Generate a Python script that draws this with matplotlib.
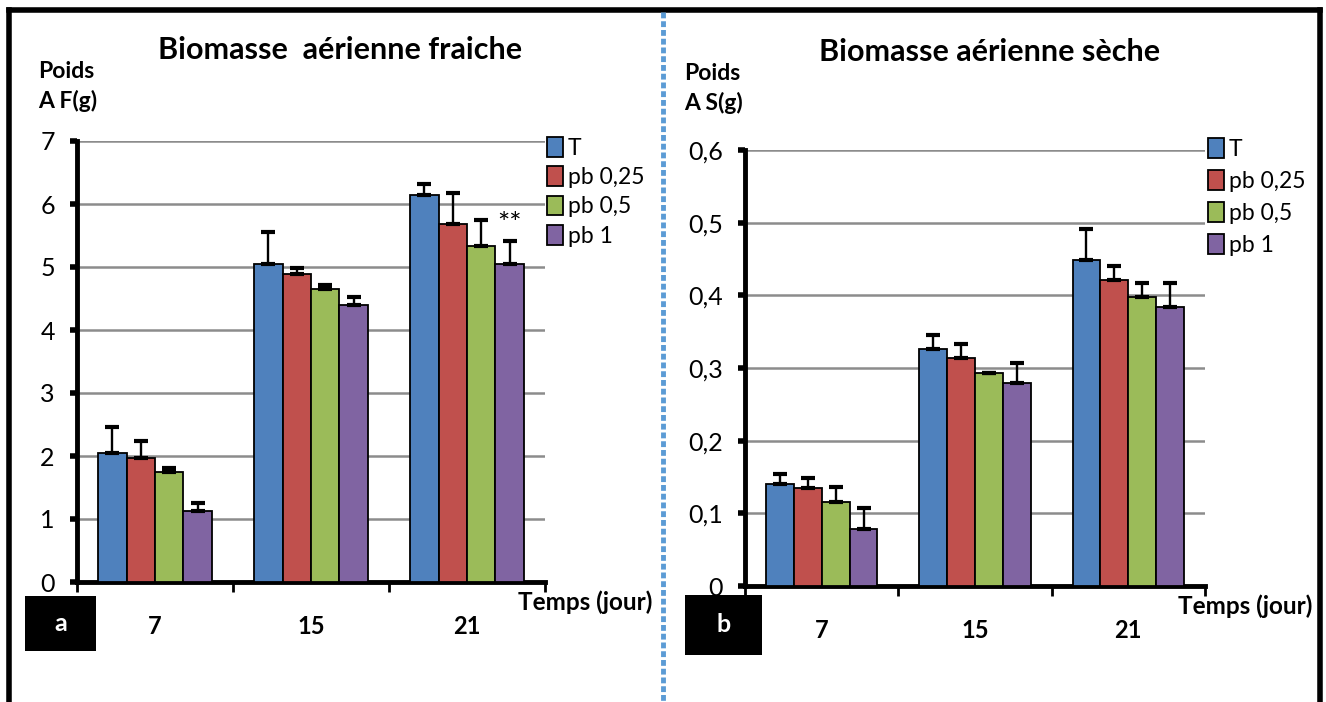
import matplotlib
matplotlib.use("Agg")
import matplotlib.pyplot as plt
from matplotlib.lines import Line2D
from matplotlib.patches import Rectangle, Patch
import numpy as np

plt.rcParams['font.family'] = ['Lato', 'DejaVu Sans']

days = ['7', '15', '21']
series = ['T', 'pb 0,25', 'pb 0,5', 'pb 1']
colors = ['#4F81BD', '#C0504D', '#9BBB59', '#8064A2']

# biomasse aerienne fraiche (g): mean and upper error
fresh_T = [2.05, 5.05, 6.14]
fresh_pb025 = [1.97, 4.89, 5.69]
fresh_pb05 = [1.74, 4.65, 5.33]
fresh_pb1 = [1.12, 4.39, 5.05]
fresh_err_T = [0.41, 0.50, 0.17]
fresh_err_pb025 = [0.27, 0.10, 0.48]
fresh_err_pb05 = [0.07, 0.07, 0.41]
fresh_err_pb1 = [0.14, 0.14, 0.37]

# biomasse aerienne seche (g)
dry_T = [0.140, 0.326, 0.449]
dry_pb025 = [0.135, 0.314, 0.421]
dry_pb05 = [0.115, 0.293, 0.398]
dry_pb1 = [0.078, 0.280, 0.384]
dry_err_T = [0.014, 0.020, 0.042]
dry_err_pb025 = [0.014, 0.019, 0.020]
dry_err_pb05 = [0.021, 0.000, 0.019]
dry_err_pb1 = [0.029, 0.027, 0.033]

W, H = 1326, 702
fig = plt.figure(figsize=(W / 100, H / 100), dpi=100)


def px_axes(x0, x1, ytop, ybot):
    return fig.add_axes([x0 / W, 1 - ybot / H, (x1 - x0) / W, (ybot - ytop) / H])


def draw_panel(ax, means, errs, ymax, yticks, yticklabels):
    n = len(means)
    bw = 0.182
    x = np.arange(len(days)) + 0.5
    for i in range(n):
        pos = x + (i - (n - 1) / 2) * bw
        ax.bar(pos, means[i], bw, color=colors[i], edgecolor='black',
               linewidth=1.3, zorder=3, label=series[i])
        ax.errorbar(pos, means[i], yerr=[np.zeros(len(days)), errs[i]],
                    fmt='none', ecolor='black', elinewidth=1.7, capsize=5,
                    capthick=3, zorder=4)
    ax.set_xlim(0, len(days))
    ax.set_ylim(0, ymax)
    ax.set_yticks(yticks)
    ax.set_yticklabels(yticklabels, fontsize=18)
    ax.yaxis.grid(True, color='#8c8c8c', linewidth=1.8, zorder=0)
    ax.set_axisbelow(True)
    for s in ['top', 'right']:
        ax.spines[s].set_visible(False)
    ax.spines['left'].set_linewidth(3.5)
    ax.spines['bottom'].set_linewidth(3.5)
    ax.set_xticks(np.arange(len(days) + 1))
    ax.set_xticklabels([])
    ax.tick_params(axis='x', which='major', length=7, width=2, direction='out')
    ax.set_xticks(x, minor=True)
    ax.set_xticklabels(days, minor=True, fontsize=17, fontweight='bold')
    ax.tick_params(axis='x', which='minor', length=0, pad=24)
    ax.tick_params(axis='y', length=5, width=4, direction='out', pad=11)
    return x


ax1 = px_axes(77, 545, 141, 582)
x1 = draw_panel(ax1,
                [fresh_T, fresh_pb025, fresh_pb05, fresh_pb1],
                [fresh_err_T, fresh_err_pb025, fresh_err_pb05, fresh_err_pb1],
                7, range(8), [str(v) for v in range(8)])
ax1.text(x1[2] + 1.5 * 0.182, fresh_pb1[2] + fresh_err_pb1[2] + 0.04, '**',
         ha='center', va='bottom', fontsize=21)

ax2 = px_axes(745, 1205, 150, 586)
draw_panel(ax2,
           [dry_T, dry_pb025, dry_pb05, dry_pb1],
           [dry_err_T, dry_err_pb025, dry_err_pb05, dry_err_pb1],
           0.6, np.arange(7) / 10,
           ['0'] + ['0,%d' % v for v in range(1, 7)])

# legends
handles = [Patch(facecolor=c, edgecolor='black', linewidth=1.3) for c in colors]
for ax, anchor, sp in [(ax1, (547, 137), 0.33), (ax2, (1208, 138), 0.45)]:
    ax.legend(handles, series, loc='upper left',
              bbox_to_anchor=(anchor[0] / W, 1 - anchor[1] / H),
              bbox_transform=fig.transFigure, frameon=False, fontsize=16.5,
              handlelength=0.7, handleheight=0.95, handletextpad=0.2,
              labelspacing=sp, borderpad=0, borderaxespad=0)

# titles and labels
fig.text(340 / W, 1 - 50 / H, 'Biomasse  aérienne fraiche', ha='center',
         va='center', fontsize=22, fontweight='bold')
fig.text(990 / W, 1 - 52 / H, 'Biomasse aérienne sèche', ha='center',
         va='center', fontsize=22, fontweight='bold')
fig.text(38 / W, 1 - 72 / H, 'Poids', fontsize=16.5, fontweight='bold', va='center')
fig.text(38 / W, 1 - 101 / H, 'A F(g)', fontsize=16.5, fontweight='bold', va='center')
fig.text(684 / W, 1 - 73 / H, 'Poids', fontsize=16.5, fontweight='bold', va='center')
fig.text(684 / W, 1 - 103 / H, 'A S(g)', fontsize=16.5, fontweight='bold', va='center')
fig.text(652 / W, 1 - 602 / H, 'Temps (jour)', fontsize=17.5, fontweight='bold',
         ha='right', va='center')
fig.text(1312 / W, 1 - 606 / H, 'Temps (jour)', fontsize=17.5, fontweight='bold',
         ha='right', va='center')

# panel letters
for (bx0, by0, bx1, by1), letter in [((25, 596, 96, 651), 'a'),
                                     ((685, 595, 762, 655), 'b')]:
    fig.add_artist(Rectangle((bx0 / W, 1 - by1 / H), (bx1 - bx0) / W,
                             (by1 - by0) / H, transform=fig.transFigure,
                             facecolor='black', edgecolor='none'))
    fig.text((bx0 + bx1) / 2 / W, 1 - (by0 + by1) / 2 / H, letter,
             color='white', fontsize=18, fontweight='bold',
             ha='center', va='center')

# frame and divider
frame = dict(transform=fig.transFigure, color='black', linewidth=4)
fig.add_artist(Line2D([9 / W, 1320 / W], [1 - 10 / H, 1 - 10 / H], **frame))
fig.add_artist(Line2D([9 / W, 9 / W], [1 - 10 / H, 0], **frame))
fig.add_artist(Line2D([1320 / W, 1320 / W], [1 - 10 / H, 0], **frame))
fig.add_artist(Line2D([663 / W, 663 / W], [1 - 12 / H, 0],
                      transform=fig.transFigure, color='#5B9BD5',
                      linewidth=3.5, linestyle=(0, (1.2, 0.6))))

fig.savefig('out.png', dpi=100)
